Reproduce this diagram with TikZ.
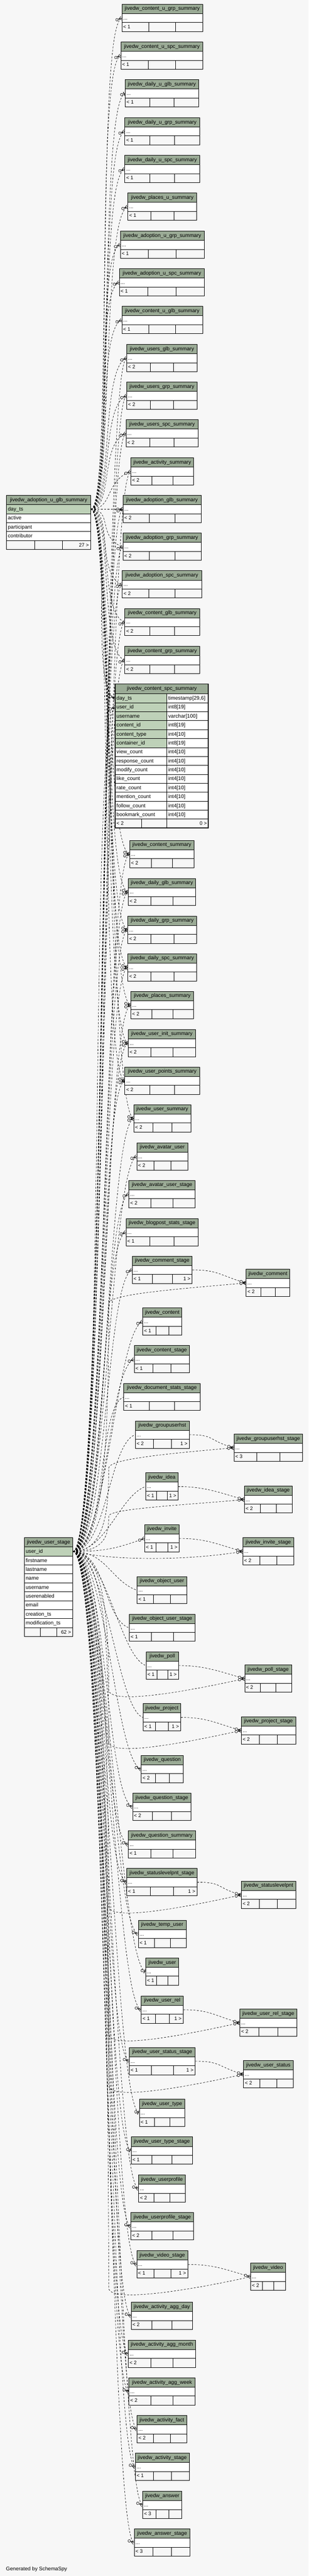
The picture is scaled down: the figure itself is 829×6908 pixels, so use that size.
\documentclass[tikz,border=0pt]{standalone}
\usepackage{fontspec}
\setmainfont{Liberation Sans}
\usetikzlibrary{decorations.markings}
\definecolor{bgc}{RGB}{247,247,247}
\definecolor{hdc}{RGB}{155,171,150}
\definecolor{pkc}{RGB}{190,209,184}
\pgfdeclarelayer{back}
\pgfdeclarelayer{links}
\pgfsetlayers{back,links,main}
\tikzset{
 hdr/.style={draw=black, line width=1, fill=hdc, inner sep=0, minimum height=25, font=\fontsize{14}{16}\selectfont},
 rowc/.style={draw=black, line width=1, fill=white, inner sep=0, minimum height=24},
 cellc/.style={draw=black, line width=1, fill=bgc, inner sep=0, minimum height=24},
 txt/.style={inner sep=0, font=\fontsize{14}{16}\selectfont},
 ftxt/.style={inner sep=0, font=\fontsize{13.5}{15}\selectfont},
 link/.style={draw=black, line width=0.9, dash pattern=on 5pt off 4pt},
 many/.style={link, decoration={markings, mark=at position 1 with {
    \draw[solid, line width=0.9] (-9pt,0pt) -- (0pt,5pt) (-9pt,0pt) -- (0pt,-5pt) (-9pt,0pt) -- (0pt,0pt);
    \draw[solid, line width=0.9, fill=bgc] (-13.5pt,0pt) circle[radius=3.5pt];}}, postaction={decorate}},
 one/.style={link, decoration={markings, mark=at position 1 with {
    \draw[solid, line width=1.8] (-3pt,-5pt) -- (-3pt,5pt);
    \draw[solid, line width=0.9, fill=bgc] (-9.5pt,0pt) circle[radius=3.5pt];}}, postaction={decorate}},
}
% small table: name, x1, x2, top, title, left footer, right footer
\newcommand\stbl[7]{%
  \pgfmathsetmacro\tbW{#3-#2}%
  \pgfmathsetmacro\tbF{(#3-#2)/3}%
  \node[hdr, minimum width=\tbW, anchor=north west] (#1h) at (#2,#4) {#5};
  \node[rowc, minimum width=\tbW, anchor=north west] (#1) at (#2,#4+25) {};
  \node[ftxt, anchor=base west] (#1d) at (#2+4,#4+42) {...};
  \node[cellc, minimum width=\tbF, anchor=north west] (#1fa) at (#2,#4+49) {};
  \node[cellc, minimum width=\tbF, anchor=north west] (#1fb) at (#2+\tbF,#4+49) {};
  \node[cellc, minimum width=\tbF, anchor=north west] (#1fc) at (#2+2*\tbF,#4+49) {};
  \node[ftxt, anchor=base west] (#1fl) at (#2+4,#4+66) {#6};
  \node[ftxt, anchor=base east] (#1fr) at (#3-4,#4+66) {#7};
}
\begin{document}
\begin{tikzpicture}[x=1pt,y=-1pt]
\begin{pgfonlayer}{back}
\fill[bgc] (0,0) rectangle (829,6908);
\end{pgfonlayer}
\useasboundingbox (0,0) rectangle (829,6908);

% ---------- middle column ----------
\stbl{t1}{327}{544}{11}{jivedw\_content\_u\_grp\_summary}{< 1}{}
\stbl{t2}{324}{545}{112}{jivedw\_content\_u\_spc\_summary}{< 1}{}
\stbl{t3}{336}{533}{213}{jivedw\_daily\_u\_glb\_summary}{< 1}{}
\stbl{t4}{335}{536}{315}{jivedw\_daily\_u\_grp\_summary}{< 1}{}
\stbl{t5}{335}{536}{416}{jivedw\_daily\_u\_spc\_summary}{< 1}{}
\stbl{t6}{343}{528}{517}{jivedw\_places\_u\_summary}{< 1}{}
\stbl{t7}{323}{548}{619}{jivedw\_adoption\_u\_grp\_summary}{< 1}{}
\stbl{t8}{320}{549}{720}{jivedw\_adoption\_u\_spc\_summary}{< 1}{}
\stbl{t9}{327}{544}{821}{jivedw\_content\_u\_glb\_summary}{< 1}{}
\stbl{t10}{340}{529}{923}{jivedw\_users\_glb\_summary}{< 2}{}
\stbl{t11}{340}{529}{1024}{jivedw\_users\_grp\_summary}{< 2}{}
\stbl{t12}{338}{532}{1125}{jivedw\_users\_spc\_summary}{< 2}{}
\stbl{t13}{351}{520}{1227}{jivedw\_activity\_summary}{< 2}{}
\stbl{t14}{330}{540}{1328}{jivedw\_adoption\_glb\_summary}{< 2}{}
\stbl{t15}{330}{540}{1429}{jivedw\_adoption\_grp\_summary}{< 2}{}
\stbl{t16}{328}{541}{1530}{jivedw\_adoption\_spc\_summary}{< 2}{}
\stbl{t17}{335}{536}{1631}{jivedw\_content\_glb\_summary}{< 2}{}
\stbl{t18}{335}{536}{1733}{jivedw\_content\_grp\_summary}{< 2}{}

% content_spc_summary (selected table)
\node[hdr, minimum width=251, minimum height=26, anchor=north west] (t19h) at (309,1834) {jivedw\_content\_spc\_summary};
\foreach \n/\ty [count=\i] in {day\_ts/{timestamp[29,6]},user\_id/{int8[19]},username/{varchar[100]},content\_id/{int8[19]},content\_type/{int4[10]},container\_id/{int8[19]}} {
  \node[rowc, fill=pkc, minimum width=139, anchor=north west] (t19r\i) at (309,1836+24*\i) {};
  \node[rowc, minimum width=112, anchor=north west] (t19s\i) at (448,1836+24*\i) {};
  \node[txt, anchor=base west] (t19n\i) at (313,1853+24*\i) {\n};
  \node[txt, anchor=base west] (t19y\i) at (452,1853+24*\i) {\ty};
}
\foreach \n [count=\i from 7] in {view\_count,response\_count,modify\_count,like\_count,rate\_count,mention\_count,follow\_count,bookmark\_count} {
  \node[rowc, minimum width=139, anchor=north west] (t19r\i) at (309,1836+24*\i) {};
  \node[rowc, minimum width=112, anchor=north west] (t19s\i) at (448,1836+24*\i) {};
  \node[txt, anchor=base west] (t19n\i) at (313,1853+24*\i) {\n};
  \node[txt, anchor=base west] (t19y\i) at (452,1853+24*\i) {int4[10]};
}
\node[cellc, minimum width=71, anchor=north west] (t19fa) at (309,2196) {};
\node[cellc, minimum width=68, anchor=north west] (t19fb) at (380,2196) {};
\node[cellc, minimum width=112, anchor=north west] (t19fc) at (448,2196) {};
\node[ftxt, anchor=base west] (t19fl) at (313,2213) {< 2};
\node[ftxt, anchor=base east] (t19fr) at (556,2213) {0 >};
\draw[line width=2.6] (309,1834) rectangle (560,2220);

\stbl{t20}{348}{521}{2253}{jivedw\_content\_summary}{< 2}{}
\stbl{t21}{344}{525}{2355}{jivedw\_daily\_glb\_summary}{< 2}{}
\stbl{t22}{343}{528}{2456}{jivedw\_daily\_grp\_summary}{< 2}{}
\stbl{t23}{343}{528}{2557}{jivedw\_daily\_spc\_summary}{< 2}{}
\stbl{t24}{351}{520}{2658}{jivedw\_places\_summary}{< 2}{}
\stbl{t25}{344}{525}{2760}{jivedw\_user\_init\_summary}{< 2}{}
\stbl{t26}{335}{536}{2861}{jivedw\_user\_points\_summary}{< 2}{}
\stbl{t27}{359}{512}{2962}{jivedw\_user\_summary}{< 2}{}
\stbl{t28}{367}{504}{3064}{jivedw\_avatar\_user}{< 2}{}
\stbl{t29}{346}{524}{3165}{jivedw\_avatar\_user\_stage}{< 2}{}
\stbl{t30}{338}{532}{3267}{jivedw\_blogpost\_stats\_stage}{< 1}{}
\stbl{t31}{355}{516}{3368}{jivedw\_comment\_stage}{< 1}{1 >}
\stbl{t32}{383}{488}{3507}{jivedw\_content}{< 1}{}
\stbl{t33}{360}{509}{3608}{jivedw\_content\_stage}{< 1}{}
\stbl{t34}{332}{537}{3709}{jivedw\_document\_stats\_stage}{< 1}{}
\stbl{t35}{363}{508}{3810}{jivedw\_groupuserhst}{< 2}{1 >}
\stbl{t36}{391}{478}{3949}{jivedw\_idea}{< 1}{1 >}
\stbl{t37}{388}{481}{4088}{jivedw\_invite}{< 1}{1 >}
\stbl{t38}{368}{501}{4227}{jivedw\_object\_user}{< 1}{}
\stbl{t39}{347}{524}{4328}{jivedw\_object\_user\_stage}{< 1}{}
\stbl{t40}{392}{479}{4429}{jivedw\_poll}{< 1}{1 >}
\stbl{t41}{384}{485}{4568}{jivedw\_project}{< 1}{1 >}
\stbl{t42}{379}{492}{4707}{jivedw\_question}{< 2}{}
\stbl{t43}{356}{513}{4808}{jivedw\_question\_stage}{< 2}{}
\stbl{t44}{344}{525}{4909}{jivedw\_question\_summary}{< 1}{}
\stbl{t45}{340}{529}{5010}{jivedw\_statuslevelpnt\_stage}{< 1}{1 >}
\stbl{t46}{371}{500}{5149}{jivedw\_temp\_user}{< 1}{}
\stbl{t47}{391}{480}{5250}{jivedw\_user}{< 1}{}
\stbl{t48}{379}{492}{5352}{jivedw\_user\_rel}{< 1}{1 >}
\stbl{t49}{347}{524}{5490}{jivedw\_user\_status\_stage}{< 1}{1 >}
\stbl{t50}{374}{496}{5629}{jivedw\_user\_type}{< 1}{}
\stbl{t51}{352}{517}{5730}{jivedw\_user\_type\_stage}{< 1}{}
\stbl{t52}{372}{497}{5832}{jivedw\_userprofile}{< 2}{}
\stbl{t53}{351}{520}{5933}{jivedw\_userprofile\_stage}{< 2}{}
\stbl{t54}{367}{504}{6035}{jivedw\_video\_stage}{< 1}{1 >}
\stbl{t55}{352}{517}{6173}{jivedw\_activity\_agg\_day}{< 2}{}
\stbl{t56}{344}{525}{6275}{jivedw\_activity\_agg\_month}{< 2}{}
\stbl{t57}{346}{524}{6376}{jivedw\_activity\_agg\_week}{< 2}{}
\stbl{t58}{368}{501}{6477}{jivedw\_activity\_fact}{< 2}{}
\stbl{t59}{363}{508}{6578}{jivedw\_activity\_stage}{< 1}{}
\stbl{t60}{383}{488}{6680}{jivedw\_answer}{< 3}{}
\stbl{t61}{360}{510}{6781}{jivedw\_answer\_stage}{< 3}{}

% ---------- right column ----------
\stbl{R1}{661}{778}{3403}{jivedw\_comment}{< 2}{}
\stbl{R2}{628}{813}{3845}{jivedw\_groupuserhst\_stage}{< 3}{}
\stbl{R3}{656}{785}{3984}{jivedw\_idea\_stage}{< 2}{}
\stbl{R4}{652}{789}{4123}{jivedw\_invite\_stage}{< 2}{}
\stbl{R5}{657}{783}{4464}{jivedw\_poll\_stage}{< 2}{}
\stbl{R6}{648}{794}{4603}{jivedw\_project\_stage}{< 2}{}
\stbl{R7}{648}{794}{5044}{jivedw\_statuslevelpnt}{< 2}{}
\stbl{R8}{644}{797}{5387}{jivedw\_user\_rel\_stage}{< 2}{}
\stbl{R9}{654}{787}{5525}{jivedw\_user\_status}{< 2}{}
\stbl{R10}{673}{767}{6068}{jivedw\_video}{< 2}{}

% ---------- left: jivedw_adoption_u_glb_summary ----------
\node[hdr, minimum width=226, anchor=north west] (L1h) at (17,1328) {jivedw\_adoption\_u\_glb\_summary};
\node[rowc, fill=pkc, minimum width=226, anchor=north west] (L1r1) at (17,1353) {};
\node[txt, anchor=base west] (L1n1) at (21,1370) {day\_ts};
\foreach \n [count=\i from 2] in {active,participant,contributor} {
  \node[rowc, minimum width=226, anchor=north west] (L1r\i) at (17,1329+24*\i) {};
  \node[txt, anchor=base west] (L1n\i) at (21,1346+24*\i) {\n};
}
\node[cellc, minimum width=75.33, anchor=north west] (L1fa) at (17,1449) {};
\node[cellc, minimum width=75.33, anchor=north west] (L1fb) at (92.33,1449) {};
\node[cellc, minimum width=75.33, anchor=north west] (L1fc) at (167.67,1449) {};
\node[ftxt, anchor=base east] (L1fr) at (239,1466) {27 >};

% ---------- left: jivedw_user_stage ----------
\node[hdr, minimum width=130, anchor=north west] (L2h) at (65,4123) {jivedw\_user\_stage};
\node[rowc, fill=pkc, minimum width=130, anchor=north west] (L2r1) at (65,4148) {};
\node[txt, anchor=base west] (L2n1) at (69,4165) {user\_id};
\foreach \n [count=\i from 2] in {firstname,lastname,name,username,userenabled,email,creation\_ts,modification\_ts} {
  \node[rowc, minimum width=130, anchor=north west] (L2r\i) at (65,4124+24*\i) {};
  \node[txt, anchor=base west] (L2n\i) at (69,4141+24*\i) {\n};
}
\node[cellc, minimum width=43.33, anchor=north west] (L2fa) at (65,4364) {};
\node[cellc, minimum width=43.33, anchor=north west] (L2fb) at (108.33,4364) {};
\node[cellc, minimum width=43.33, anchor=north west] (L2fc) at (151.67,4364) {};
\node[ftxt, anchor=base east] (L2fr) at (191,4381) {62 >};

\node[txt, anchor=base west] (gen) at (16,6893) {Generated by SchemaSpy};

% ---------- connectors ----------
\begin{pgfonlayer}{links}
\foreach \tn in {t1,t2,t4,t5,t6,t7,t8,t9,t10,t11,t12,t13}
  \draw[many] (L1r1.east) .. controls +(60,0) and +(-70,25) .. (\tn.west);
\draw[one] (L1r1.east) .. controls +(60,0) and +(-70,25) .. (t3.west);
\draw[many] (L1r1.east) -- (t14.west);
\foreach \tn in {t15,t16,t17,t18,t19r1,t20,t21,t22,t23,t24,t25,t26,t27}
  \draw[many] (L1r1.east) .. controls +(60,0) and +(-70,-25) .. (\tn.west);

\foreach \tn in {t10,t11,t12,t13,t14,t15,t16,t17,t18,t19r2,t20,t21,t22,t23,t24,t25,t26,t27,t28,t29,t30,t31,t32,t33,t34,t35,t36,t37}
  \draw[many] (L2r1.east) .. controls +(90,0) and +(-70,25) .. (\tn.west);
\foreach \tn in {t38,t39,t40,t41,t42,t43,t44,t45,t46,t48,t49,t52,t53,t54,t55,t56,t57,t58,t59,t60,t61}
  \draw[many] (L2r1.east) .. controls +(90,0) and +(-70,-25) .. (\tn.west);
\foreach \tn in {t47,t50,t51}
  \draw[one] (L2r1.east) .. controls +(90,0) and +(-70,-25) .. (\tn.west);

\coordinate (v1) at (292,3495);
\coordinate (v2) at (292,3937);
\coordinate (v3) at (292,4066);
\coordinate (v5) at (292,4531);
\coordinate (v6) at (292,4670);
\coordinate (v7) at (292,5111);
\coordinate (v8) at (292,5454);
\coordinate (v9) at (292,5592);
\coordinate (v10) at (292,6135);
\draw[many] (L2r1.east) .. controls +(90,0) and +(0,300) .. (v1) .. controls +(0,-25) and +(-170,15) .. (R1.west);
\draw[many] (L2r1.east) .. controls +(90,0) and +(0,100) .. (v2) .. controls +(0,-25) and +(-170,15) .. (R2.west);
\draw[many] (L2r1.east) .. controls +(90,0) and +(0,45) .. (v3) .. controls +(0,-20) and +(-170,15) .. (R3.west);
\draw[many] (L2r1.east) .. controls +(110,25) and +(-150,25) .. (R4.west);
\draw[many] (L2r1.east) .. controls +(90,0) and +(0,-150) .. (v5) .. controls +(0,40) and +(-180,40) .. (R5.west);
\draw[many] (L2r1.east) .. controls +(90,0) and +(0,-200) .. (v6) .. controls +(0,40) and +(-180,40) .. (R6.west);
\draw[many] (L2r1.east) .. controls +(90,0) and +(0,-300) .. (v7) .. controls +(0,40) and +(-180,40) .. (R7.west);
\draw[many] (L2r1.east) .. controls +(90,0) and +(0,-300) .. (v8) .. controls +(0,40) and +(-180,40) .. (R8.west);
\draw[many] (L2r1.east) .. controls +(90,0) and +(0,-300) .. (v9) .. controls +(0,40) and +(-180,40) .. (R9.west);
\draw[many] (L2r1.east) .. controls +(90,0) and +(0,-300) .. (v10) .. controls +(0,40) and +(-180,40) .. (R10.west);

\draw[many] (t31.east) .. controls +(70,0) and +(-70,-20) .. (R1.west);
\draw[many] (t35.east) .. controls +(70,0) and +(-70,-20) .. (R2.west);
\draw[many] (t36.east) .. controls +(70,0) and +(-70,-20) .. (R3.west);
\draw[many] (t37.east) .. controls +(70,0) and +(-70,-20) .. (R4.west);
\draw[many] (t40.east) .. controls +(70,0) and +(-70,-20) .. (R5.west);
\draw[many] (t41.east) .. controls +(70,0) and +(-70,-20) .. (R6.west);
\draw[many] (t45.east) .. controls +(70,0) and +(-70,-20) .. (R7.west);
\draw[many] (t48.east) .. controls +(70,0) and +(-70,-20) .. (R8.west);
\draw[many] (t49.east) .. controls +(70,0) and +(-70,-20) .. (R9.west);
\draw[many] (t54.east) .. controls +(70,0) and +(-70,-20) .. (R10.west);
\end{pgfonlayer}
\end{tikzpicture}
\end{document}
